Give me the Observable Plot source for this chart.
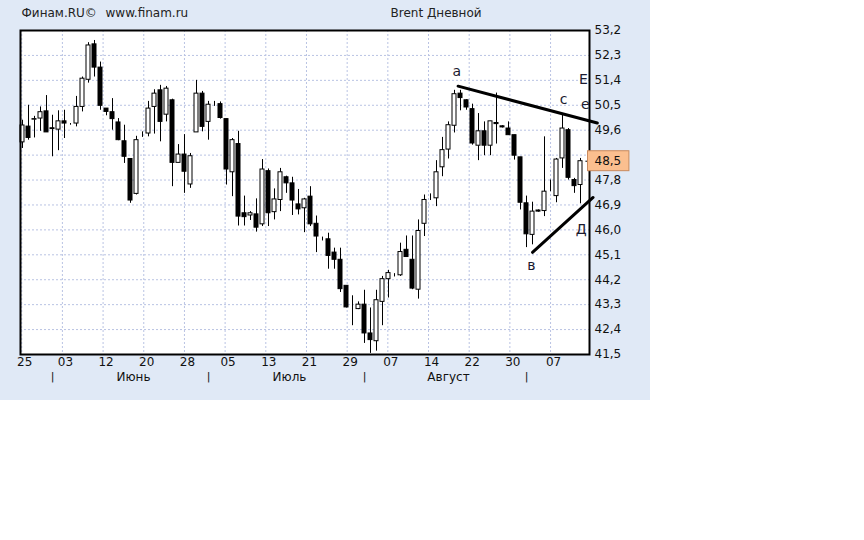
<!DOCTYPE html>
<html><head><meta charset="utf-8">
<script src="https://cdn.jsdelivr.net/npm/d3@7"></script>
<script src="https://cdn.jsdelivr.net/npm/@observablehq/plot@0.6"></script>
<style>
html,body{margin:0;padding:0;background:#fff;}
#panel{position:absolute;left:0;top:0;width:650px;height:400px;background:#e0e9f6;}
#chart{position:absolute;left:0;top:0;}
</style></head><body><div id="panel"></div><div id="chart"></div>
<script>
const openP = [49.16,49.73,49.98,50.02,50.28,49.67,49.62,49.92,49.80,49.84,
  50.44,51.42,52.70,51.86,50.38,50.25,49.88,49.20,48.56,47.30,
  49.44,49.48,50.44,51.04,50.16,50.68,48.42,48.72,47.64,49.52,
  50.92,49.90,50.55,50.54,50.00,48.08,49.10,46.60,46.52,46.56,
  46.20,48.12,46.64,47.08,47.90,47.68,46.92,46.78,47.20,46.22,
  45.70,45.66,45.18,44.92,43.98,43.20,43.14,43.30,42.26,41.98,
  43.40,44.22,44.34,44.36,45.28,44.92,43.84,46.22,47.20,47.14,
  48.26,48.90,49.76,50.92,50.68,50.36,49.04,49.56,49.04,49.86,
  49.74,49.66,49.42,48.62,46.96,45.82,46.70,46.68,47.42,47.22,
  48.58,49.60,47.80,47.62];
const highP = [49.96,50.50,50.10,50.44,50.85,50.14,50.30,50.32,49.84,50.82,
  51.52,52.76,52.84,52.06,50.38,50.74,50.02,49.78,48.56,49.38,
  49.54,50.64,51.06,51.22,51.18,50.72,49.08,49.44,48.76,51.40,
  51.00,50.64,50.64,50.62,50.00,49.30,49.56,47.22,46.66,47.12,
  48.54,48.20,47.48,48.22,47.94,47.90,47.46,47.14,47.56,46.50,
  45.74,45.88,45.34,45.34,43.98,43.62,43.40,43.82,43.18,43.82,
  44.32,44.54,44.42,45.52,45.78,45.78,46.36,47.26,47.30,48.50,
  49.34,49.90,51.04,51.04,50.70,50.54,50.20,49.90,49.92,50.94,
  49.76,49.90,49.42,48.62,47.22,47.00,46.72,49.36,47.80,48.58,
  50.20,49.66,47.86,48.58];
const lowP = [48.94,49.24,49.32,49.56,49.52,48.64,48.86,49.30,49.78,49.72,
  50.26,51.30,51.52,50.32,50.12,49.60,49.22,48.40,46.96,47.26,
  49.34,49.36,49.46,49.18,49.90,47.56,48.42,47.32,47.50,49.52,
  49.54,49.24,50.46,50.00,47.62,47.20,46.14,46.14,46.34,45.92,
  46.12,46.12,46.36,46.66,47.32,46.52,46.54,45.90,46.12,45.18,
  45.60,44.58,44.58,43.74,43.18,42.54,43.12,41.90,41.54,41.62,
  42.54,43.54,44.30,44.32,45.02,43.84,43.50,45.76,47.06,46.84,
  47.92,48.56,49.50,50.30,50.32,49.06,48.50,48.68,48.68,49.10,
  49.68,49.42,48.52,46.72,45.36,45.46,46.64,46.48,47.38,46.98,
  48.22,47.80,47.32,46.94];
const closeP = [49.77,49.32,50.00,50.25,49.52,49.64,49.92,49.84,49.80,50.44,
  51.46,52.66,51.86,50.48,50.26,50.00,49.24,48.64,47.06,49.24,
  49.44,50.38,50.92,49.90,51.10,48.42,48.72,48.10,48.66,50.92,
  49.72,50.52,50.55,50.04,48.18,49.24,46.48,46.46,46.60,46.08,
  48.18,46.60,47.10,48.08,47.68,47.06,46.74,47.10,46.20,45.76,
  45.70,45.06,44.92,43.86,43.20,43.20,43.30,42.26,42.02,43.46,
  44.22,44.44,44.34,45.20,45.02,43.88,45.96,47.08,47.20,48.08,
  48.88,49.78,50.90,50.76,50.42,49.12,49.56,49.04,49.92,49.82,
  49.70,49.42,48.68,46.98,45.84,46.66,46.66,47.38,47.42,48.54,
  49.66,47.88,47.58,48.48];

const dateLabels = ["25","03","12","20","28","05","13","21","29","07","14","22","30","07"];
const monthNames = ["Июнь","Июль","Август"];
const monthStarts = [5,31,57,84];
const yTicks = [41.5,42.4,43.3,44.2,45.1,46.0,46.9,47.8,48.7,49.6,50.5,51.4,52.3,53.2];
const trendTop = [{x:72.6,y:51.19},{x:95.8,y:49.86}];
const trendBottom = [{x:85.0,y:45.19},{x:95.1,y:47.17}];
const waveLabels = ["a","c","E","e","в","Д"];
const waveX = [72.4,90.2,93.5,93.8,84.8,93.1];
const waveY = [51.73,50.71,51.44,50.54,44.7,46.0];
const headerLeft = ["Финам.RU©","www.finam.ru"];
const headerTitle = "Brent Дневной";

const candles = openP.map((o,i)=>({i, o, h:highP[i], l:lowP[i], c:closeP[i], up: closeP[i] >= o}));
const last = closeP[closeP.length-1];
const gridStep = 6.78;
const xTicks = dateLabels.map((label,k)=>({pos: k*gridStep - 0.13, label}));
const months = monthNames.map((name,k)=>({name, mid:(monthStarts[k]+monthStarts[k+1])/2 + 0.5}));
const waves = waveLabels.map((t,k)=>({t, x:waveX[k], y:waveY[k]}));
const fmt = d => d.toFixed(1).replace(".", ",");
// the current-price box hides the axis label under it
const shownTicks = yTicks.filter(t => Math.abs(t - last) > 0.45);
const xMax = 94.5;
const gridColor = "#b9c3e3";

const chart = Plot.plot({
  width: 650, height: 400,
  marginLeft: 20, marginRight: 61, marginTop: 30, marginBottom: 46,
  x: {domain: [-1/3, xMax], axis: null},
  y: {domain: [41.5, 53.2], axis: null},
  style: {fontFamily: "DejaVu Sans", fontSize: "12px", background: "transparent", overflow: "visible", color: "#111"},
  marks: [
    Plot.frame({fill: "white"}),
    Plot.ruleY(yTicks, {stroke: gridColor, strokeDasharray: "2,2"}),
    Plot.ruleX(xTicks, {x: "pos", stroke: gridColor, strokeDasharray: "2,2"}),
    Plot.ruleX(candles, {x: "i", y1: "l", y2: "h", stroke: "black", strokeWidth: 1}),
    Plot.rect(candles, {x1: d => d.i - 1/3, x2: d => d.i + 1/3, y1: "o", y2: "c",
      fill: d => d.up ? "white" : "black", stroke: "black", strokeWidth: 1}),
    Plot.frame({stroke: "black", strokeWidth: 2}),
    Plot.line(trendTop, {x: "x", y: "y", stroke: "black", strokeWidth: 3}),
    Plot.line(trendBottom, {x: "x", y: "y", stroke: "black", strokeWidth: 3}),
    Plot.text(waves, {x: "x", y: "y", text: "t", fontSize: 14, fill: "#1b1b30"}),
    // right axis labels
    Plot.text(shownTicks, {y: d => d, text: fmt, frameAnchor: "right", dx: 5, textAnchor: "start", fill: "#111"}),
    // current price box
    Plot.ruleY([last], {x1: 93.9, x2: 94.4, stroke: "black"}),
    Plot.rect([last], {x1: xMax - 0.25, x2: xMax + 6.65, y1: d => d - 0.36, y2: d => d + 0.36, fill: "#fbbf8f", stroke: "#c98a5e"}),
    Plot.text([last], {y: d => d, text: fmt, frameAnchor: "right", dx: 5, textAnchor: "start", fill: "#111"}),
    // bottom axis
    Plot.text(xTicks, {x: "pos", text: "label", frameAnchor: "bottom", dy: 8, dx: 3, lineAnchor: "middle", fill: "#111"}),
    Plot.text(monthStarts, {x: d => d, text: () => "|", frameAnchor: "bottom", dy: 22, lineAnchor: "middle", fontSize: 11, fill: "#111"}),
    Plot.text(months, {x: "mid", text: "name", frameAnchor: "bottom", dy: 23, lineAnchor: "middle", fill: "#111"}),
    // header
    Plot.text([headerLeft[0]], {text: d => d, frameAnchor: "top-left", dx: 1, dy: -17, textAnchor: "start", lineAnchor: "middle", fill: "#222"}),
    Plot.text([headerLeft[1]], {text: d => d, frameAnchor: "top-left", dx: 85, dy: -17, textAnchor: "start", lineAnchor: "middle", fill: "#222"}),
    Plot.text([headerTitle], {text: d => d, frameAnchor: "top-left", dx: 370, dy: -17, textAnchor: "start", lineAnchor: "middle", fill: "#222"})
  ]
});
document.getElementById("chart").appendChild(chart);
</script></body></html>
